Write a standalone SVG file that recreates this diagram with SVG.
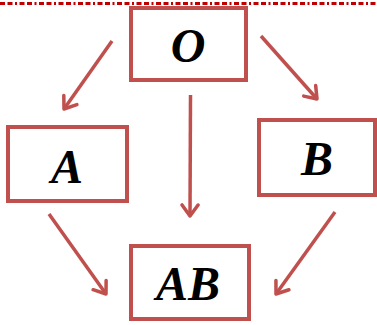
<svg xmlns="http://www.w3.org/2000/svg" width="377" height="325" viewBox="0 0 377 325">
<style>
.box{fill:#fff;stroke:#c0504d;stroke-width:4}
.lbl{font-family:"Liberation Serif",serif;font-weight:bold;font-style:italic;font-size:48px;fill:#000;text-anchor:middle}
.con{stroke:#c0504d;stroke-width:3.5;fill:none;marker-end:url(#ah)}
</style>
<defs>
<marker id="ah" markerUnits="userSpaceOnUse" markerWidth="20" markerHeight="20" refX="14" refY="10" orient="auto" viewBox="0 0 20 20">
<path d="M3,2 L14,10 L3,18" fill="none" stroke="#c0504d" stroke-width="3.5" stroke-linecap="round" stroke-linejoin="round"/>
</marker>
</defs>
<line x1="0" y1="3.5" x2="377" y2="3.5" stroke="#c00000" stroke-width="3" stroke-dasharray="5,2.5,5,2.5,2,2.5"/>
<g id="connectors">
<line class="con" x1="112" y1="41" x2="64" y2="109"/>
<line class="con" x1="261" y1="36" x2="317" y2="99"/>
<line class="con" x1="190.5" y1="95" x2="190" y2="216"/>
<line class="con" x1="49" y1="214" x2="106" y2="294"/>
<line class="con" x1="335" y1="212" x2="276" y2="294"/>
</g>
<g id="O"><rect class="box" x="131" y="8" width="115" height="72"/><text class="lbl" x="188" y="62">O</text></g>
<g id="A"><rect class="box" x="8" y="127" width="119" height="74"/><text class="lbl" x="67" y="183">A</text></g>
<g id="B"><rect class="box" x="259" y="120" width="116" height="75"/><text class="lbl" x="317" y="175">B</text></g>
<g id="AB"><rect class="box" x="131" y="246" width="118" height="73"/><text class="lbl" x="188" y="300">AB</text></g>
</svg>
